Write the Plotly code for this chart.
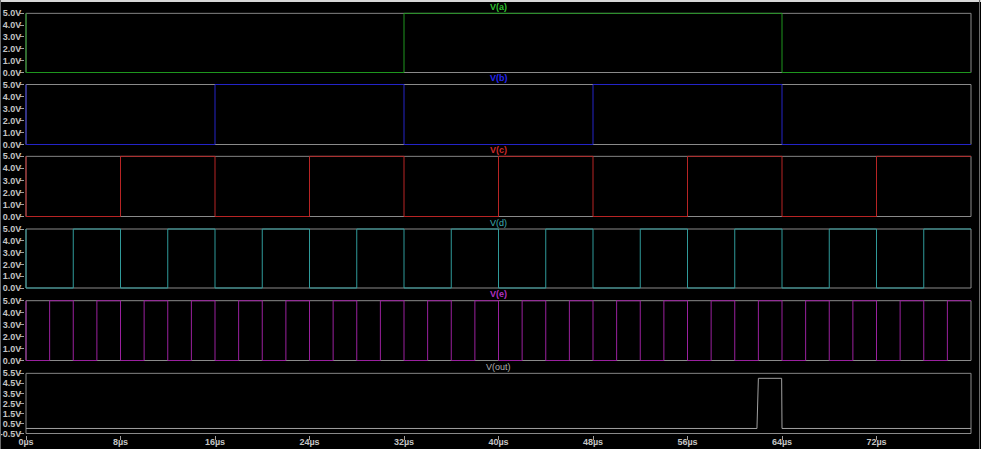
import plotly.graph_objects as go

W, H = 981, 449

# ---- data (step waveforms: edge times in µs, levels in V) ----
a_t = [0, 0, 32, 64, 80]
a_v = [5, 0, 5, 0, 0]

b_t = [0, 0, 16, 32, 48, 64, 80]
b_v = [5, 0, 5, 0, 5, 0, 0]

c_t = [0, 0, 8, 16, 24, 32, 40, 48, 56, 64, 72, 80]
c_v = [5, 0, 5, 0, 5, 0, 5, 0, 5, 0, 5, 5]

d_t = [0, 0, 4, 8, 12, 16, 20, 24, 28, 32, 36, 40, 44, 48, 52, 56, 60, 64, 68, 72, 76, 80]
d_v = [5, 0, 5, 0, 5, 0, 5, 0, 5, 0, 5, 0, 5, 0, 5, 0, 5, 0, 5, 0, 5, 5]

e_t = [0, 0, 2, 4, 6, 8, 10, 12, 14, 16, 18, 20, 22, 24, 26, 28, 30, 32, 34, 36, 38, 40,
       42, 44, 46, 48, 50, 52, 54, 56, 58, 60, 62, 64, 66, 68, 70, 72, 74, 76, 78, 80]
e_v = [5, 0, 5, 0, 5, 0, 5, 0, 5, 0, 5, 0, 5, 0, 5, 0, 5, 0, 5, 0, 5, 0,
       5, 0, 5, 0, 5, 0, 5, 0, 5, 0, 5, 0, 5, 0, 5, 0, 5, 0, 5, 5]

out_t = [0, 61.88, 62.0, 63.97, 64.0, 80]
out_v = [0, 0, 5, 5, 0, 0]

names = ["V(a)", "V(b)", "V(c)", "V(d)", "V(e)", "V(out)"]
x_ticks = [0, 8, 16, 24, 32, 40, 48, 56, 64, 72]
x_ticktext = ["0µs", "8µs", "16µs", "24µs", "32µs", "40µs", "48µs", "56µs", "64µs", "72µs"]
v_ticks = [0, 1, 2, 3, 4, 5]
v_ticktext = ["0.0V", "1.0V", "2.0V", "3.0V", "4.0V", "5.0V"]
out_ticks = [-0.5, 0.5, 1.5, 2.5, 3.5, 4.5, 5.5]
out_ticktext = ["-0.5V", "0.5V", "1.5V", "2.5V", "3.5V", "4.5V", "5.5V"]

# ---- styling / layout geometry ----
series = [(a_t, a_v), (b_t, b_v), (c_t, c_v), (d_t, d_v), (e_t, e_v), (out_t, out_v)]
line_colors = ["#1e961e", "#2424c8", "#b82424", "#2f9a9a", "#9a209e", "#a0a0a0"]
title_colors = ["#2fbf2f", "#2525ee", "#cc2a2a", "#3fb0b0", "#b030c0", "#b0b0b0"]
title_bold = [True, True, True, False, True, False]
shapes_kind = ["hv", "hv", "hv", "hv", "hv", "linear"]
frame_top = [13.3, 84.5, 156.3, 229.0, 300.7, 373.3]
frame_bot = [72.5, 144.5, 216.5, 288.0, 360.5, 433.5]
y_lo = [0, 0, 0, 0, 0, -0.5]
y_hi = [5, 5, 5, 5, 5, 5.5]

X_LEFT, X_RIGHT = 26.0, 971.0
T_MAX = 80.0
PAD = 1.0
sx = (X_RIGHT - X_LEFT) / T_MAX
px = PAD / sx
FONT = "Liberation Sans, Arial, sans-serif"
LABEL_COLOR = "#c4c4c4"

fig = go.Figure()
layout = dict(
    width=W, height=H,
    margin=dict(l=0, r=0, t=0, b=0, autoexpand=False),
    paper_bgcolor="black", plot_bgcolor="black",
    showlegend=False,
    font=dict(family=FONT, color=LABEL_COLOR, size=9),
)
shapes = []
annotations = []

for i in range(6):
    k = i + 1
    xs = "x" if k == 1 else f"x{k}"
    ys = "y" if k == 1 else f"y{k}"
    t, v = series[i]
    fig.add_trace(go.Scatter(
        x=t, y=v, mode="lines", xaxis=xs, yaxis=ys,
        line=dict(color=line_colors[i], width=1, shape=shapes_kind[i]),
        hoverinfo="skip",
    ))
    T, B = frame_top[i], frame_bot[i]
    lo, hi = y_lo[i], y_hi[i]
    sy = (B - T) / (hi - lo)
    py = PAD / sy
    xa = dict(
        domain=[(X_LEFT - PAD) / W, (X_RIGHT + PAD) / W],
        range=[-px, T_MAX + px],
        anchor=ys, showgrid=False, zeroline=False, showline=False,
        fixedrange=True,
    )
    if k == 6:
        xa.update(tickvals=x_ticks, ticktext=x_ticktext, ticks="outside",
                  ticklen=4, tickwidth=1, tickcolor="#a0a0a0",
                  ticklabelstandoff=-5,
                  tickfont=dict(family=FONT, size=9, color=LABEL_COLOR, weight="bold"))
    else:
        xa.update(showticklabels=False, ticks="")
    layout["xaxis" if k == 1 else f"xaxis{k}"] = xa
    ya = dict(
        domain=[1 - (B + PAD) / H, 1 - (T - PAD) / H],
        range=[lo - py, hi + py],
        anchor=xs, showgrid=False, zeroline=False, showline=False,
        tickvals=out_ticks if k == 6 else v_ticks,
        ticktext=out_ticktext if k == 6 else v_ticktext,
        ticks="outside", ticklen=4, tickwidth=1, tickcolor="#a0a0a0",
        ticklabelstandoff=-3,
        tickfont=dict(family=FONT, size=9, color=LABEL_COLOR, weight="bold"),
        fixedrange=True,
    )
    layout["yaxis" if k == 1 else f"yaxis{k}"] = ya
    shapes.append(dict(type="rect", xref=xs, yref=ys, x0=0, x1=T_MAX, y0=lo, y1=hi,
                       line=dict(color="#8a8a8a", width=1), layer="below"))
    annotations.append(dict(
        xref="paper", yref="paper",
        x=(X_LEFT + X_RIGHT) / 2 / W, y=1 - (T - 6.5) / H,
        text=names[i], showarrow=False, xanchor="center", yanchor="middle",
        font=dict(family=FONT, size=9, color=title_colors[i],
                  weight="bold" if title_bold[i] else "normal"),
    ))

# window border
shapes.append(dict(type="rect", xref="paper", yref="paper", x0=0, x1=1,
                   y0=1 - 2 / H, y1=1, fillcolor="#d8d8d8", line=dict(width=0)))
shapes.append(dict(type="line", xref="paper", yref="paper", x0=0.5 / W, x1=0.5 / W,
                   y0=0, y1=1, line=dict(color="#6a6a6a", width=1)))
shapes.append(dict(type="line", xref="paper", yref="paper", x0=979.5 / W, x1=979.5 / W,
                   y0=0, y1=1, line=dict(color="#6a6a6a", width=1)))

layout["shapes"] = shapes
layout["annotations"] = annotations
fig.update_layout(**layout)
fig.write_html("out.html")
